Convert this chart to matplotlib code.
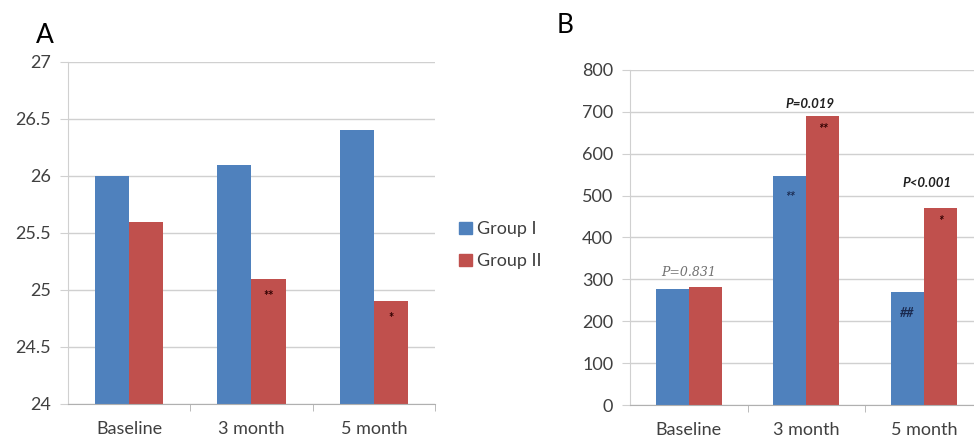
import matplotlib.pyplot as plt
import numpy as np
from matplotlib.patches import Patch

plt.rcParams['font.family'] = ['Lato', 'DejaVu Sans']

categories = ['Baseline', '3 month', '5 month']
groups = ['Group I', 'Group II']

# panel A
a_group1 = [26.0, 26.1, 26.4]
a_group2 = [25.6, 25.1, 24.9]
a_ticks = [24, 24.5, 25, 25.5, 26, 26.5, 27]
a_marks2 = ['', '**', '*']

# panel B
b_group1 = [277, 547, 270]
b_group2 = [282, 690, 470]
b_ticks = [0, 100, 200, 300, 400, 500, 600, 700, 800]
b_marks1 = ['', '**', '##']
b_marks2 = ['', '**', '*']
b_pvals = ['P=0.831', 'P=0.019', 'P<0.001']

blue = '#4F81BD'
red = '#C0504D'
grid_c = '#D0D0D0'
text_c = '#404040'

fig = plt.figure(figsize=(9.74, 4.42), dpi=100)
axA = fig.add_axes([0.0698, 0.086, 0.3768, 0.774])
axB = fig.add_axes([0.6468, 0.0837, 0.362, 0.758])

x = np.arange(len(categories))
w = 0.28


def style_axis(ax, ticks, ticklabels):
    ax.set_xlim(-0.5, 2.5)
    ax.set_ylim(ticks[0], ticks[-1])
    ax.set_yticks(ticks)
    ax.set_yticklabels(ticklabels, fontsize=13, color=text_c)
    ax.set_xticks(x)
    ax.set_xticklabels(categories, fontsize=13, color=text_c)
    ax.tick_params(axis='x', length=0, pad=12)
    ax.tick_params(axis='y', length=6, color=grid_c, pad=6)
    ax.yaxis.grid(True, color=grid_c, linewidth=1)
    ax.set_axisbelow(True)
    for s in ['top', 'right']:
        ax.spines[s].set_visible(False)
    ax.spines['left'].set_color(grid_c)
    ax.spines['bottom'].set_color('#B0B0B0')
    # small ticks between categories on x axis
    ax.set_xticks([0.5, 1.5, 2.5], minor=True)
    ax.tick_params(axis='x', which='minor', length=5, color='#B0B0B0')


axA.bar(x - w / 2, a_group1, w, color=blue)
axA.bar(x + w / 2, a_group2, w, color=red)
style_axis(axA, a_ticks, ['24', '24.5', '25', '25.5', '26', '26.5', '27'])
for i, m in enumerate(a_marks2):
    if m:
        axA.text(x[i] + w / 2, a_group2[i] - 0.15, m, ha='center', va='center',
                 fontsize=9, fontweight='bold', color='#300000')

axB.bar(x - w / 2, b_group1, w, color=blue)
axB.bar(x + w / 2, b_group2, w, color=red)
style_axis(axB, b_ticks, [str(t) for t in b_ticks])
for i in range(len(categories)):
    if b_marks1[i]:
        axB.text(x[i] - w / 2, b_group1[i] - 50, b_marks1[i], ha='center', va='center',
                 fontsize=9, fontweight='bold', style='italic', color='#1A2A50')
    if b_marks2[i]:
        axB.text(x[i] + w / 2, b_group2[i] - 30, b_marks2[i], ha='center', va='center',
                 fontsize=9, fontweight='bold', style='italic', color='#300000')

axB.text(x[0], max(b_group1[0], b_group2[0]) + 20, b_pvals[0], ha='center', va='bottom',
         fontsize=9, style='italic', color='#707070', family='DejaVu Serif')
offsets = [0, 15, 45]
for i in [1, 2]:
    axB.text(x[i] + 0.03, max(b_group1[i], b_group2[i]) + offsets[i], b_pvals[i],
             ha='center', va='bottom', fontsize=9.5, style='italic',
             fontweight='bold', color='#202020')

handles = [Patch(color=blue), Patch(color=red)]
fig.legend(handles, groups, loc='center left', bbox_to_anchor=(0.455, 0.445),
           frameon=False, fontsize=13, handlelength=0.7, handleheight=0.7,
           handletextpad=0.3, labelspacing=0.9, labelcolor=text_c)

fig.text(0.046, 0.92, 'A', fontsize=19, ha='center', va='center')
fig.text(0.580, 0.943, 'B', fontsize=19, ha='center', va='center')

fig.savefig('out.png', dpi=100)
